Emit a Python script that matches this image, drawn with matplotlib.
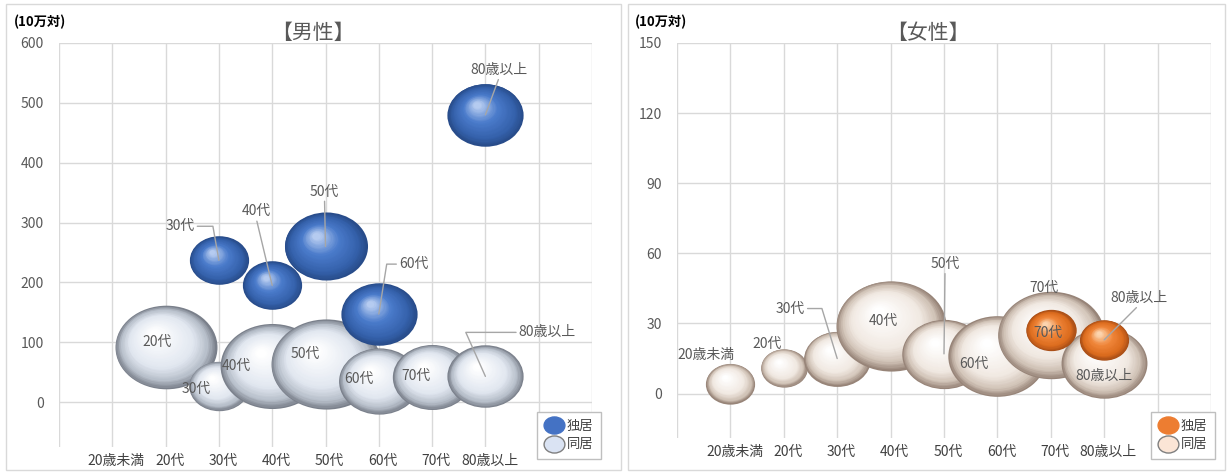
#Bubble chart: 独居 / 同居 by age group, male and female
import numpy as np
import matplotlib
matplotlib.use('Agg')
import matplotlib.pyplot as plt
from matplotlib.path import Path
from matplotlib.lines import Line2D
from matplotlib.patches import Rectangle
from matplotlib.colors import LinearSegmentedColormap
from matplotlib.transforms import offset_copy, ScaledTranslation

plt.rcParams['font.family'] = ['Noto Sans CJK JP', 'DejaVu Sans']

#Categories on the x axis
ages = ['20歳未満', '20代', '30代', '40代', '50代', '60代', '70代', '80歳以上']

#Male values (10万対) and bubble sizes
m_alone_ages = ['30代', '40代', '50代', '60代', '80歳以上']
m_alone_y = [237, 195, 260, 147, 480]
m_alone_size = [29, 29, 57, 48, 48]

m_tog_ages = ['20代', '30代', '40代', '50代', '60代', '70代', '80歳以上']
m_tog_y = [92, 27, 60, 63, 35, 42, 43]
m_tog_size = [86, 30, 89, 100, 54, 52, 48]

#Female values
f_alone_ages = ['70代', '80歳以上']
f_alone_y = [27, 23]
f_alone_size = [21, 20]

f_tog_ages = ['20歳未満', '20代', '30代', '40代', '50代', '60代', '70代', '80歳以上']
f_tog_y = [4.3, 11, 15, 29, 17, 16, 25, 13]
f_tog_size = [20, 18, 37, 100, 59, 80, 94, 61]

#Look of the bubbles
R_MAX = 55      #horizontal radius in px of a size-100 bubble
ASPECT = 1.22   #bubbles are a bit wider than tall in the original
uc = Path.unit_circle()
ELL = Path(uc.vertices * [1, 1 / ASPECT], uc.codes)

blue = LinearSegmentedColormap.from_list('b', [(0, '#284c8a'), (0.2, '#3561ab'), (0.6, '#4a7bcb'), (1, '#b5cbf0')])
silver = LinearSegmentedColormap.from_list('s', [(0, '#7a808b'), (0.15, '#b6bec9'), (0.4, '#e1e7f0'), (1, '#ffffff')])
orange = LinearSegmentedColormap.from_list('o', [(0, '#a84e17'), (0.2, '#dc6c1e'), (0.6, '#f0863a'), (1, '#fcd4ae')])
beige = LinearSegmentedColormap.from_list('g', [(0, '#978478'), (0.15, '#d0c2b6'), (0.4, '#f1e9e2'), (1, '#ffffff')])

fig = plt.figure(figsize=(12.28, 4.72), dpi=100)

#panel frames
fig.add_artist(Rectangle((6 / 1228, 2 / 472), 615 / 1228, 466 / 472, transform=fig.transFigure,
                         fill=False, ec='#D9D9D9', lw=1))
fig.add_artist(Rectangle((628 / 1228, 2 / 472), 597 / 1228, 466 / 472, transform=fig.transFigure,
                         fill=False, ec='#D9D9D9', lw=1))


def sphere(ax, x, y, size, cmap, z):
    w = R_MAX * np.sqrt(size / 100.0)
    h = w / ASPECT
    n = 32
    for k in range(n):
        t = k / (n - 1)
        f = 1 - 0.9 * t
        tr = offset_copy(ax.transData, fig=fig, x=-0.22 * w * t, y=0.32 * h * t, units='dots')
        ax.scatter([x], [y], s=(2 * w * f * 0.72) ** 2, marker=ELL, c=[cmap(t)],
                   linewidths=0, transform=tr, zorder=z + t * 0.5)


def setup(ax, ymin, ymax, step):
    ax.set_xlim(0, 10)
    ax.set_ylim(ymin, ymax)
    ax.set_xticks(range(11))
    ax.set_xticklabels([''] + ages + ['', ''])
    ax.set_yticks(np.arange(0, ymax + 1, step))
    ax.grid(True, color='#D9D9D9', lw=1)
    ax.set_axisbelow(True)
    for sp in ax.spines.values():
        sp.set_visible(False)
    ax.tick_params(axis='x', length=0, labelsize=10, colors='#404040', pad=5)
    ax.tick_params(axis='y', length=0, labelsize=10, colors='#595959', pad=11)
    for lab in ax.get_xticklabels():
        lab.set_transform(lab.get_transform() + ScaledTranslation(3 / 72, 0, fig.dpi_scale_trans))


def label(ax, text, x, y, dx, dy, line=None):
    kw = dict(xy=(x, y), xytext=(dx * 0.72, dy * 0.72), textcoords='offset points',
              ha='center', va='center', fontsize=10, color='#595959', zorder=100)
    if line is not None:
        rel, conn = line
        kw['arrowprops'] = dict(arrowstyle='-', color='#A6A6A6', lw=1, shrinkA=0, shrinkB=0,
                                relpos=rel, connectionstyle=conn)
    ax.annotate(text, **kw)


#---------------- Male ----------------
ax1 = fig.add_axes([59 / 1228, 25 / 472, 533 / 1228, 404 / 472])
setup(ax1, -75, 600, 100)

z = 2
for a, y, s in zip(m_tog_ages, m_tog_y, m_tog_size):
    sphere(ax1, ages.index(a) + 1, y, s, silver, z)
    z += 1
for a, y, s in zip(m_alone_ages, m_alone_y, m_alone_size):
    sphere(ax1, ages.index(a) + 1, y, s, blue, z)
    z += 1

#labels of 同居 (inside the bubbles)
m_tog_off = {'20代': (-8, 5), '30代': (-23, -3), '40代': (-36, 0), '50代': (-20, 10),
             '60代': (-20, 2), '70代': (-16, 1)}
for a, y in zip(m_tog_ages, m_tog_y):
    x = ages.index(a) + 1
    if a in m_tog_off:
        label(ax1, a, x, y, *m_tog_off[a])
label(ax1, '80歳以上', 8, m_tog_y[-1], 62, 44, ((0, 0.5), 'angle,angleA=0,angleB=114,rad=0'))

#labels of 独居 (callouts)
label(ax1, '30代', 3, m_alone_y[0], -39, 34, ((1, 0.5), 'angle,angleA=0,angleB=100,rad=0'))
label(ax1, '40代', 4, m_alone_y[1], -16, 74, ((0.5, 0), 'arc3'))
label(ax1, '50代', 5, m_alone_y[2], -1, 55, ((0.5, 0), 'arc3'))
label(ax1, '60代', 6, m_alone_y[3], 35, 50, ((0, 0.5), 'angle,angleA=0,angleB=81,rad=0'))
label(ax1, '80歳以上', 8, m_alone_y[4], 14, 45, ((0.5, 0), 'arc3'))

ax1.legend(handles=[Line2D([], [], ls='none', marker=ELL, markersize=15, mfc='#4472C4', mec='#4472C4'),
                    Line2D([], [], ls='none', marker=ELL, markersize=15, mfc='#DAE3F3', mec='#7F7F7F')],
           labels=['独居', '同居'], loc='upper left', bbox_to_anchor=(530 / 1228, 1 - 405 / 472),
           bbox_transform=fig.transFigure, fontsize=9.5, frameon=True, fancybox=False,
           edgecolor='#BFBFBF', framealpha=1, handletextpad=0.3, borderpad=0.6,
           labelspacing=0.45, handlelength=1.4, labelcolor='#404040').set_zorder(200)

#---------------- Female ----------------
ax2 = fig.add_axes([677 / 1228, 34 / 472, 534 / 1228, 395 / 472])
setup(ax2, -19, 150, 30)

z = 2
for a, y, s in zip(f_tog_ages, f_tog_y, f_tog_size):
    sphere(ax2, ages.index(a) + 1, y, s, beige, z)
    z += 1
for a, y, s in zip(f_alone_ages, f_alone_y, f_alone_size):
    sphere(ax2, ages.index(a) + 1, y, s, orange, z)
    z += 1

label(ax2, '20歳未満', 1, f_tog_y[0], -24, 29)
label(ax2, '20代', 2, f_tog_y[1], -17, 24)
label(ax2, '30代', 3, f_tog_y[2], -47, 50, ((1, 0.5), 'angle,angleA=0,angleB=107,rad=0'))
label(ax2, '40代', 4, f_tog_y[3], -7, 5)
label(ax2, '50代', 5, f_tog_y[4], 1, 90, ((0.5, 0), 'arc3'))
label(ax2, '60代', 6, f_tog_y[5], -23, -8)
label(ax2, '70代', 7, f_tog_y[6], -7, 47)
label(ax2, '80歳以上', 8, f_tog_y[7], 0, -13)
label(ax2, '70代', 7, f_alone_y[0], -3, -2)
label(ax2, '80歳以上', 8, f_alone_y[1], 35, 42, ((0.5, 0), 'arc3'))

ax2.legend(handles=[Line2D([], [], ls='none', marker=ELL, markersize=15, mfc='#ED7D31', mec='#ED7D31'),
                    Line2D([], [], ls='none', marker=ELL, markersize=15, mfc='#FBE5D6', mec='#7F7F7F')],
           labels=['独居', '同居'], loc='upper left', bbox_to_anchor=(1144 / 1228, 1 - 405 / 472),
           bbox_transform=fig.transFigure, fontsize=9.5, frameon=True, fancybox=False,
           edgecolor='#BFBFBF', framealpha=1, handletextpad=0.3, borderpad=0.6,
           labelspacing=0.45, handlelength=1.4, labelcolor='#404040').set_zorder(200)

#titles and unit labels
fig.text(313 / 1228, 1 - 33 / 472, '【男性】', ha='center', va='center', fontsize=15, color='#595959')
fig.text(928 / 1228, 1 - 33 / 472, '【女性】', ha='center', va='center', fontsize=15, color='#595959')
fig.text(14 / 1228, 1 - 22 / 472, '(10万対)', ha='left', va='center', fontsize=9.5, fontweight='bold')
fig.text(635 / 1228, 1 - 22 / 472, '(10万対)', ha='left', va='center', fontsize=9.5, fontweight='bold')

fig.savefig('out.png', dpi=100)
